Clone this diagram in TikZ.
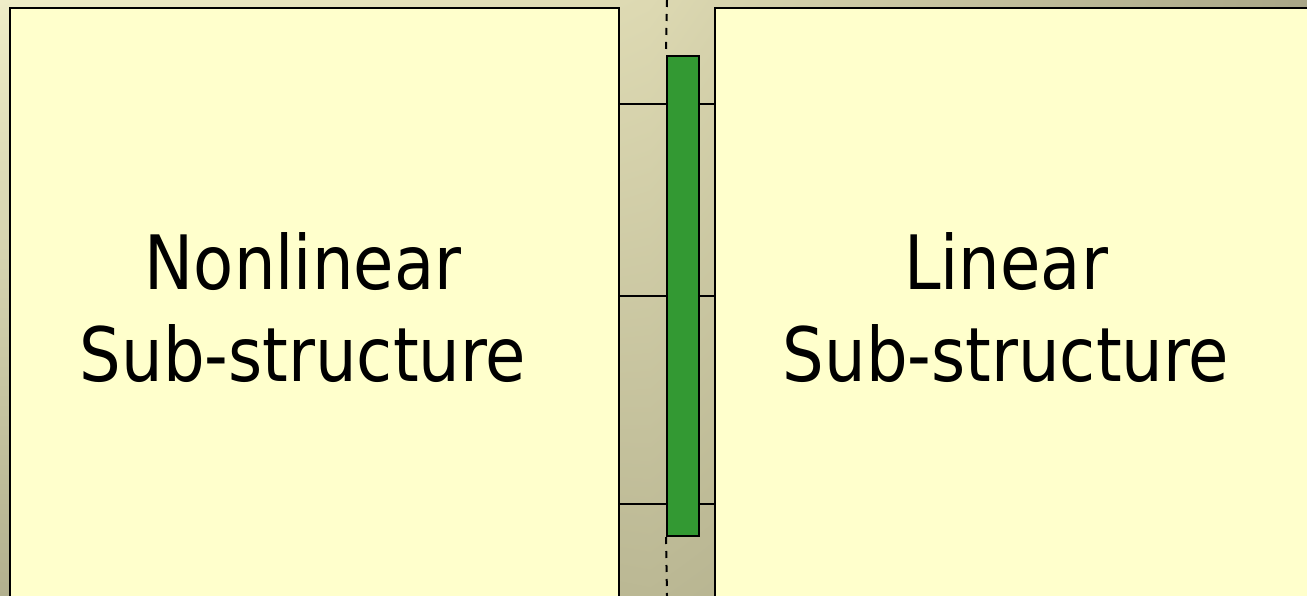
\documentclass[tikz,border=0pt]{standalone}
\usepackage{fontspec}
\usetikzlibrary{shadings}
\newfontfamily\labelfont[FakeStretch=0.875]{DejaVu Sans}
\begin{document}
\begin{tikzpicture}[x=1pt,y=-1pt,
  panel/.style={draw=black,line width=2pt,fill=panelfill,rectangle,inner sep=0pt},
  interface/.style={draw=black,line width=2pt,fill=barfill,rectangle,inner sep=0pt,
    minimum width=32pt,minimum height=480pt},
  link/.style={draw=black,line width=2pt},
  axisline/.style={draw=black,line width=2pt,dash pattern=on 7pt off 7pt},
  caption/.style={font=\labelfont\fontsize{75}{91}\selectfont,anchor=base,inner sep=0pt}]
\definecolor{panelfill}{HTML}{FFFFCC}
\definecolor{barfill}{HTML}{339933}
\definecolor{bgA}{HTML}{EFEDC8}
\definecolor{bgB}{HTML}{DDD9B2}
\definecolor{bgC}{HTML}{A9A687}
\definecolor{bgD}{HTML}{B2B08E}
\definecolor{bgE}{HTML}{BBB894}
\definecolor{bgF}{HTML}{A2A080}
\useasboundingbox (0,0) rectangle (1307,596);
\clip (0,0) rectangle (1307,596);
% background gradient
\shade[upper left=bgA,upper right=bgB,lower left=bgD,lower right=bgE]
  (0,0) rectangle (651,596);
\shade[upper left=bgB,upper right=bgC,lower left=bgE,lower right=bgF]
  (650,0) rectangle (1307,596);
% centre line of the interface
\coordinate (ctop) at (667,0);
\coordinate (cbot) at (667,596);
% sub-structures
\node[panel,minimum width=609pt,minimum height=602pt] (nl) at (314.5,309) {};
\node[panel,minimum width=605pt,minimum height=602pt] (lin) at (1017.5,309) {};
% interface bar
\node[interface] (bar) at (683,296) {};
\draw[axisline] (ctop) -- (bar.north west);
\draw[axisline] (bar.south west) -- (cbot);
% connecting elements
\foreach \yy in {104,296,504}{
  \draw[link] (nl.east |- 0,\yy) -- (bar.west |- 0,\yy);
  \draw[link] (bar.east |- 0,\yy) -- (lin.west |- 0,\yy);
}
% labels
\node[caption] (nlA) at (303,290) {Nonlinear};
\node[caption] (nlB) at (303,381) {Sub-structure};
\node[caption] (linA) at (1006,290) {Linear};
\node[caption] (linB) at (1006,381) {Sub-structure};
\end{tikzpicture}
\end{document}
